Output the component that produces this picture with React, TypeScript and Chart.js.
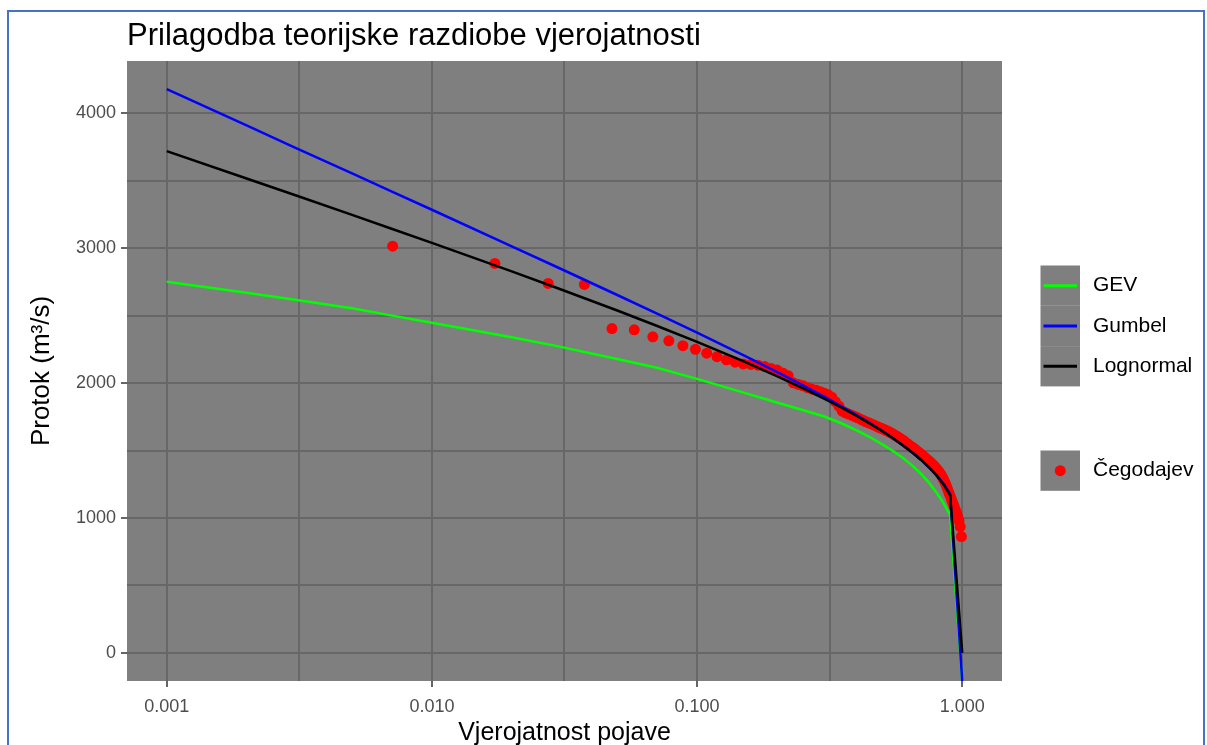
import React, { useEffect, useRef } from 'react';
import { Chart, registerables } from 'chart.js';

Chart.register(...registerables);

const FONT = '"Liberation Sans", Arial, Helvetica, sans-serif';

const chartTitle = 'Prilagodba teorijske razdiobe vjerojatnosti';
const xAxisTitle = 'Vjerojatnost pojave';
const yAxisTitle = 'Protok (m³/s)';

const xMajorTicks = [0.001, 0.01, 0.1, 1];
const xTickLabels = ['0.001', '0.010', '0.100', '1.000'];
const yMajorTicks = [0, 1000, 2000, 3000, 4000];
const yTickLabels = ['0', '1000', '2000', '3000', '4000'];

const seriesNames = ['GEV', 'Gumbel', 'Lognormal'];
const pointsName = 'Čegodajev';

// theoretical curves: exceedance probability -> discharge
const curveP = [0.001, 0.002, 0.003, 0.005, 0.007, 0.01, 0.02, 0.03, 0.05, 0.07, 0.1, 0.15, 0.2, 0.25, 0.3, 0.35, 0.4, 0.45, 0.5, 0.55, 0.6, 0.65, 0.7, 0.75, 0.8, 0.85, 0.9, 1];
const gevQ = [2751, 2670, 2620, 2555, 2502, 2447, 2340, 2272, 2178, 2115, 2031, 1929, 1856, 1800, 1754, 1702, 1650, 1598, 1545, 1494, 1442, 1386, 1326, 1260, 1188, 1110, 1020, -Infinity];
const gumbelQ = [4179, 3910, 3752, 3554, 3423, 3285, 3014, 2855, 2653, 2518, 2374, 2206, 2083, 1985, 1901, 1828, 1762, 1701, 1644, 1589, 1536, 1483, 1430, 1375, 1318, 1254, 1179, -Infinity];
const lognormalQ = [3720, 3517, 3398, 3247, 3146, 3039, 2828, 2701, 2538, 2427, 2305, 2161, 2052, 1963, 1887, 1819, 1756, 1698, 1643, 1589, 1536, 1483, 1430, 1374, 1315, 1249, 1170, 0];

// observed annual maxima with Čegodajev plotting positions
const obsP = [
  0.00711, 0.01728, 0.02744, 0.0376, 0.04776, 0.05793, 0.06809, 0.07825, 0.08841, 0.09858,
  0.10874, 0.1189, 0.12907, 0.13923, 0.14939, 0.15955, 0.16972, 0.17988, 0.19004, 0.2002,
  0.21037, 0.22053, 0.23069, 0.24085, 0.25102, 0.26118, 0.27134, 0.2815, 0.29167, 0.30183,
  0.31199, 0.32215, 0.33232, 0.34248, 0.35264, 0.3628, 0.37297, 0.38313, 0.39329, 0.40346,
  0.41362, 0.42378, 0.43394, 0.44411, 0.45427, 0.46443, 0.47459, 0.48476, 0.49492, 0.50508,
  0.51524, 0.52541, 0.53557, 0.54573, 0.55589, 0.56606, 0.57622, 0.58638, 0.59654, 0.60671,
  0.61687, 0.62703, 0.6372, 0.64736, 0.65752, 0.66768, 0.67785, 0.68801, 0.69817, 0.70833,
  0.7185, 0.72866, 0.73882, 0.74898, 0.75915, 0.76931, 0.77947, 0.78963, 0.7998, 0.80996,
  0.82012, 0.83028, 0.84045, 0.85061, 0.86077, 0.87093, 0.8811, 0.89126, 0.90142, 0.91159,
  0.92175, 0.93191, 0.94207, 0.95224, 0.9624, 0.97256, 0.98272, 0.99289,
];
const obsQ = [
  3015, 2887, 2739, 2731, 2404, 2395, 2343, 2313, 2277, 2250,
  2222, 2196, 2172, 2155, 2142, 2138, 2133, 2122, 2108, 2096,
  2075, 2055, 2002, 1990, 1980, 1966, 1955, 1946, 1936, 1925,
  1914, 1895, 1862, 1830, 1792, 1780, 1770, 1762, 1752, 1742,
  1732, 1722, 1713, 1705, 1697, 1690, 1680, 1672, 1665, 1658,
  1650, 1642, 1633, 1625, 1615, 1606, 1596, 1587, 1577, 1566,
  1555, 1544, 1534, 1524, 1515, 1505, 1494, 1484, 1474, 1463,
  1452, 1442, 1432, 1422, 1412, 1400, 1390, 1378, 1366, 1352,
  1338, 1322, 1305, 1285, 1262, 1238, 1212, 1185, 1160, 1135,
  1110, 1085, 1060, 1035, 1010, 978, 935, 862,
];

const yMin = -209;
const yMax = 4388;
const xMin = 0.000708;
const xMax = 1.4125;

const PANEL_BG = '#7f7f7f';
const GRID = '#676767';
const TICK = '#333333';
const TICK_TEXT = '#4d4d4d';
const seriesColors = ['#00ff00', '#0000ff', '#000000'];
const POINT_COLOR = '#ff0000';

const CANVAS_W = 1207;
const CANVAS_H = 745;

function isMajor(v: number, majors: number[]) {
  return majors.some((m) => Math.abs(v - m) <= Math.abs(m) * 1e-6 + 1e-9);
}

function withMidpoints(majors: number[], geometric: boolean) {
  const out: number[] = [];
  for (let i = 0; i < majors.length; i++) {
    out.push(majors[i]);
    if (i < majors.length - 1) {
      out.push(geometric ? Math.sqrt(majors[i] * majors[i + 1]) : (majors[i] + majors[i + 1]) / 2);
    }
  }
  return out;
}

const xGrid = withMidpoints(xMajorTicks, true);
const yGrid = withMidpoints(yMajorTicks, false);

const toY = (q: number) => (q === -Infinity ? yMin : q);

const decorPlugin = {
  id: 'decor',
  beforeDraw(chart: any) {
    const { ctx, chartArea: a } = chart;
    ctx.save();
    ctx.fillStyle = PANEL_BG;
    ctx.fillRect(a.left, a.top, a.right - a.left, a.bottom - a.top);
    ctx.restore();
  },
  afterDraw(chart: any) {
    const { ctx, chartArea: a } = chart;
    ctx.save();
    ctx.fillStyle = '#000000';
    ctx.font = `31px ${FONT}`;
    ctx.textAlign = 'left';
    ctx.textBaseline = 'alphabetic';
    ctx.fillText(chartTitle, a.left, 45);

    ctx.font = `25px ${FONT}`;
    ctx.textAlign = 'center';
    ctx.fillText(xAxisTitle, (a.left + a.right) / 2, 740);

    ctx.save();
    ctx.translate(42, (a.top + a.bottom) / 2);
    ctx.rotate(-Math.PI / 2);
    ctx.textBaseline = 'middle';
    ctx.font = `26px ${FONT}`;
    ctx.fillText(yAxisTitle, 0, 0);
    ctx.restore();

    // legend
    const keyX = 1040.5;
    const keyW = 39.5;
    const keyH = 40.3;
    const top1 = 265.5;
    ctx.font = `21px ${FONT}`;
    ctx.textAlign = 'left';
    ctx.textBaseline = 'middle';
    seriesNames.forEach((name, i) => {
      const t = top1 + i * keyH;
      ctx.fillStyle = PANEL_BG;
      ctx.fillRect(keyX, t, keyW, keyH);
      ctx.strokeStyle = seriesColors[i];
      ctx.lineWidth = 3;
      ctx.beginPath();
      ctx.moveTo(keyX + 3, t + keyH / 2);
      ctx.lineTo(keyX + keyW - 3, t + keyH / 2);
      ctx.stroke();
      ctx.fillStyle = '#000000';
      ctx.fillText(name, 1093, t + keyH / 2);
    });
    const top2 = 450.5;
    ctx.fillStyle = PANEL_BG;
    ctx.fillRect(keyX, top2, keyW, keyH);
    ctx.fillStyle = POINT_COLOR;
    ctx.beginPath();
    ctx.arc(keyX + keyW / 2, top2 + keyH / 2, 5.5, 0, Math.PI * 2);
    ctx.fill();
    ctx.fillStyle = '#000000';
    ctx.fillText(pointsName, 1093, top2 + keyH / 2);
    ctx.restore();
  },
};

function lineDataset(label: string, qs: number[], color: string) {
  return {
    label,
    data: curveP.map((p, i) => ({ x: p, y: toY(qs[i]) })),
    showLine: true,
    borderColor: color,
    backgroundColor: color,
    borderWidth: 2.5,
    pointRadius: 0,
    pointHoverRadius: 0,
    tension: 0,
    fill: false,
  };
}

export default function App() {
  const ref = useRef<HTMLCanvasElement>(null);

  useEffect(() => {
    if (!ref.current) return;
    const datasets: any[] = [
      lineDataset(seriesNames[2], lognormalQ, seriesColors[2]),
      lineDataset(seriesNames[1], gumbelQ, seriesColors[1]),
      lineDataset(seriesNames[0], gevQ, seriesColors[0]),
      {
        label: pointsName,
        data: obsP.map((p, i) => ({ x: p, y: obsQ[i] })),
        showLine: false,
        pointRadius: 5.5,
        pointHoverRadius: 5.5,
        pointBorderWidth: 0,
        pointBackgroundColor: POINT_COLOR,
        backgroundColor: POINT_COLOR,
        borderColor: POINT_COLOR,
      },
    ];
    const chart = new Chart(ref.current, {
      type: 'scatter',
      data: { datasets },
      options: {
        responsive: false,
        maintainAspectRatio: false,
        devicePixelRatio: 1,
        animation: false,
        events: [],
        layout: { padding: { left: 0, right: 205, top: 61, bottom: 0 } },
        plugins: {
          legend: { display: false },
          title: { display: false },
          tooltip: { enabled: false },
        },
        scales: {
          x: {
            type: 'logarithmic',
            min: xMin,
            max: xMax,
            afterBuildTicks: (scale: any) => {
              scale.ticks = xGrid.map((v) => ({ value: v }));
            },
            afterFit: (scale: any) => {
              scale.height = 64;
            },
            border: { display: false },
            grid: {
              color: GRID,
              lineWidth: 2,
              drawTicks: true,
              tickLength: 6,
              tickWidth: 1.5,
              tickColor: (c: any) => (c.tick && isMajor(c.tick.value, xMajorTicks) ? TICK : 'rgba(0,0,0,0)'),
            },
            ticks: {
              autoSkip: false,
              maxRotation: 0,
              minRotation: 0,
              padding: 9,
              color: TICK_TEXT,
              font: { family: FONT, size: 18 },
              callback: (value: any) => {
                const i = xMajorTicks.findIndex((m) => isMajor(Number(value), [m]));
                return i >= 0 ? xTickLabels[i] : '';
              },
            },
          },
          y: {
            type: 'linear',
            min: yMin,
            max: yMax,
            afterBuildTicks: (scale: any) => {
              scale.ticks = yGrid.map((v) => ({ value: v }));
            },
            afterFit: (scale: any) => {
              scale.width = 127;
            },
            border: { display: false },
            grid: {
              color: GRID,
              lineWidth: 2,
              drawTicks: true,
              tickLength: 6,
              tickWidth: 1.5,
              tickColor: (c: any) => (c.tick && isMajor(c.tick.value, yMajorTicks) ? TICK : 'rgba(0,0,0,0)'),
            },
            ticks: {
              autoSkip: false,
              padding: 5,
              color: TICK_TEXT,
              font: { family: FONT, size: 18 },
              callback: (value: any) => {
                const i = yMajorTicks.findIndex((m) => isMajor(Number(value), [m]));
                return i >= 0 ? yTickLabels[i] : '';
              },
            },
          },
        },
      } as any,
      plugins: [decorPlugin],
    });
    return () => chart.destroy();
  }, []);

  return (
    <div
      style={{
        position: 'fixed',
        left: 0,
        top: 0,
        width: CANVAS_W,
        height: CANVAS_H,
        background: '#ffffff',
        overflow: 'hidden',
      }}
    >
      <canvas
        ref={ref}
        width={CANVAS_W}
        height={CANVAS_H}
        style={{ position: 'absolute', left: 0, top: 0, width: CANVAS_W, height: CANVAS_H }}
      />
      <div
        style={{
          position: 'absolute',
          left: 7,
          top: 10,
          width: 1198,
          height: 800,
          border: '2px solid #4472c4',
          boxSizing: 'border-box',
          pointerEvents: 'none',
        }}
      />
    </div>
  );
}
